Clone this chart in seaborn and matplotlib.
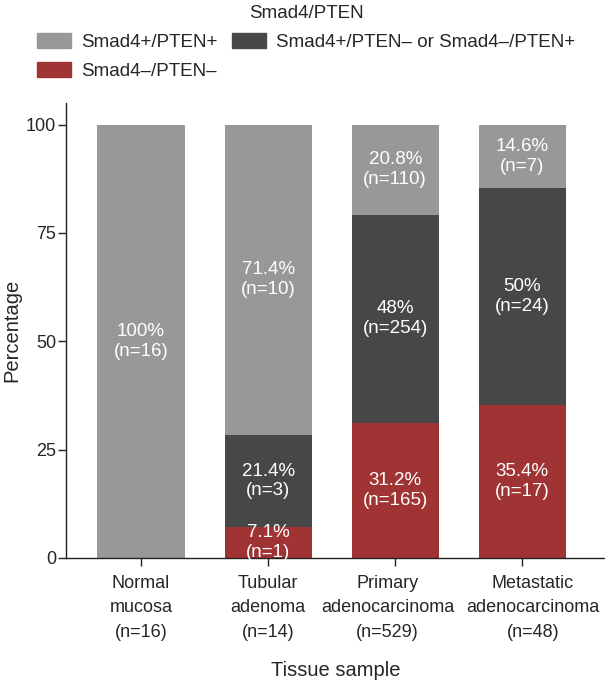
import numpy as np
import pandas as pd
import matplotlib
matplotlib.use("Agg")
import matplotlib.pyplot as plt
import matplotlib.patches as mpatches
import matplotlib.transforms as mtransforms
import seaborn as sns

# data
tissues = ["Normal\nmucosa\n(n=16)", "Tubular\nadenoma\n(n=14)",
           "Primary\nadenocarcinoma\n(n=529)", "Metastatic\nadenocarcinoma\n(n=48)"]
pct_loss_both = [0.0, 7.1, 31.2, 35.4]      # Smad4-/PTEN-
pct_loss_one = [0.0, 21.4, 48.0, 50.0]      # Smad4+/PTEN- or Smad4-/PTEN+
pct_intact = [100.0, 71.4, 20.8, 14.6]      # Smad4+/PTEN+
n_loss_both = [0, 1, 165, 17]
n_loss_one = [0, 3, 254, 24]
n_intact = [16, 10, 110, 7]

c_intact = "#989898"
c_one = "#474747"
c_both = "#a03334"

sns.set_theme(style="ticks")
plt.rcParams["font.family"] = ["Liberation Sans", "DejaVu Sans"]

df = pd.DataFrame({
    "tissue": tissues,
    "both": pct_loss_both,
    "one": pct_loss_one,
    "intact": pct_intact,
})

fig = plt.figure(figsize=(6.05, 6.9), dpi=100)
ax = fig.add_axes([66 / 605, 132 / 690, 1 - 66 / 605, (558 - 103) / 690])

bottom_one = np.array(pct_loss_both)
bottom_intact = bottom_one + np.array(pct_loss_one)
w = 0.685
sns.barplot(data=df, x="tissue", y="both", color=c_both, width=w,
            saturation=1, ax=ax, linewidth=0)
sns.barplot(data=df, x="tissue", y="one", color=c_one, width=w,
            saturation=1, ax=ax, linewidth=0, bottom=bottom_one)
sns.barplot(data=df, x="tissue", y="intact", color=c_intact, width=w,
            saturation=1, ax=ax, linewidth=0, bottom=bottom_intact)

# segment labels
for vals, ns, bottoms in [(pct_loss_both, n_loss_both, np.zeros(4)),
                          (pct_loss_one, n_loss_one, bottom_one),
                          (pct_intact, n_intact, bottom_intact)]:
    for i, (v, n, b) in enumerate(zip(vals, ns, bottoms)):
        if v <= 0:
            continue
        ax.text(i, b + v / 2, f"{v:g}%\n(n={n})", ha="center", va="center",
                color="white", fontsize=13.5, linespacing=1.2)

ax.set_ylim(0, 105)
ax.set_xlim(-0.59, 3.65)
ax.set_yticks([0, 25, 50, 75, 100])
ax.set_xticks(range(len(tissues)))
ax.set_xticklabels(tissues, linespacing=1.6)
ax.set_ylabel("Percentage", fontsize=14.5, labelpad=3)
ax.set_xlabel("Tissue sample", fontsize=14.5, labelpad=14)
ax.tick_params(axis="both", labelsize=13, length=5.5, width=1, color="#222222")
ax.tick_params(axis="y", pad=1.5)
ax.tick_params(axis="x", pad=6.5)
# long labels on the right are nudged apart, as in the original
shifts = [0, 0, -7.5, 10.5]
for lab, dx in zip(ax.get_xticklabels(), shifts):
    lab.set_transform(lab.get_transform() +
                      mtransforms.ScaledTranslation(dx / 100, 0, fig.dpi_scale_trans))
sns.despine(ax=ax, top=True, right=True)
for s in ["left", "bottom"]:
    ax.spines[s].set_color("#222222")
    ax.spines[s].set_linewidth(1)

handles = [mpatches.Patch(color=c_intact, label="Smad4+/PTEN+"),
           mpatches.Patch(color=c_both, label="Smad4\u2013/PTEN\u2013"),
           mpatches.Patch(color=c_one, label="Smad4+/PTEN\u2013 or Smad4\u2013/PTEN+")]
fig.legend(handles=handles, ncol=2, loc="upper left",
           bbox_to_anchor=(37 / 605, 1 - 5 / 690),
           frameon=False, title="Smad4/PTEN", fontsize=13.5, title_fontsize=13.5,
           handlelength=1.8, handleheight=0.8, handletextpad=0.55,
           columnspacing=0.8, labelspacing=0.6, borderpad=0, borderaxespad=0)

fig.savefig("out.png", dpi=100)
